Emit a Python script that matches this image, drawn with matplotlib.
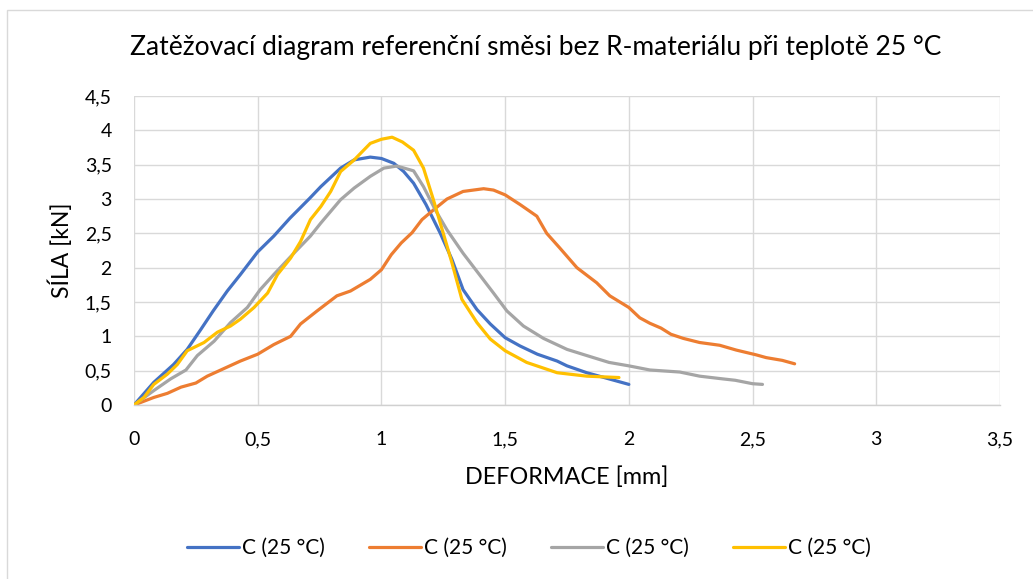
import matplotlib
matplotlib.use("Agg")
import matplotlib.pyplot as plt
from matplotlib.ticker import FuncFormatter, MultipleLocator
from matplotlib.patches import Rectangle

plt.rcParams['font.family'] = ['Lato', 'DejaVu Sans']

# Load-deformation curves (deformation in mm, force in kN)
def_blue = [0.0, 0.08, 0.16, 0.215, 0.27, 0.32, 0.377, 0.43, 0.50, 0.565, 0.63, 0.71, 0.755,
            0.835, 0.89, 0.955, 1.0, 1.05, 1.09, 1.13, 1.18, 1.238, 1.285, 1.33, 1.386, 1.44,
            1.50, 1.56, 1.63, 1.71, 1.75, 1.83, 1.91, 2.0]
force_blue = [0.0, 0.33, 0.59, 0.81, 1.10, 1.37, 1.66, 1.90, 2.23, 2.46, 2.72, 3.01, 3.18,
              3.45, 3.57, 3.61, 3.59, 3.52, 3.40, 3.23, 2.92, 2.50, 2.12, 1.68, 1.39, 1.18,
              0.98, 0.86, 0.74, 0.64, 0.57, 0.47, 0.39, 0.30]

def_orange = [0.0, 0.08, 0.135, 0.19, 0.25, 0.296, 0.363, 0.43, 0.50, 0.565, 0.633, 0.673,
              0.74, 0.82, 0.875, 0.955, 1.0, 1.04, 1.08, 1.124, 1.164, 1.21, 1.265, 1.33,
              1.413, 1.453, 1.50, 1.56, 1.628, 1.668, 1.72, 1.79, 1.87, 1.923, 2.0, 2.044,
              2.085, 2.13, 2.17, 2.22, 2.286, 2.367, 2.434, 2.515, 2.555, 2.62, 2.67]
force_orange = [0.0, 0.11, 0.17, 0.26, 0.32, 0.42, 0.53, 0.64, 0.74, 0.88, 1.00, 1.18,
                1.37, 1.59, 1.66, 1.83, 1.97, 2.19, 2.36, 2.51, 2.70, 2.84, 3.00, 3.11,
                3.15, 3.13, 3.06, 2.92, 2.75, 2.50, 2.29, 2.00, 1.78, 1.59, 1.42, 1.27,
                1.19, 1.12, 1.03, 0.97, 0.91, 0.87, 0.80, 0.73, 0.69, 0.65, 0.60]

def_gray = [0.0, 0.08, 0.148, 0.21, 0.256, 0.324, 0.39, 0.458, 0.51, 0.565, 0.646, 0.713,
            0.755, 0.835, 0.89, 0.955, 1.01, 1.063, 1.13, 1.17, 1.218, 1.265, 1.33, 1.40,
            1.453, 1.507, 1.574, 1.655, 1.75, 1.83, 1.92, 2.0, 2.085, 2.206, 2.286, 2.38,
            2.43, 2.50, 2.54]
force_gray = [0.0, 0.21, 0.38, 0.51, 0.72, 0.93, 1.20, 1.42, 1.68, 1.90, 2.21, 2.46,
              2.65, 2.99, 3.16, 3.33, 3.45, 3.48, 3.41, 3.18, 2.84, 2.55, 2.21, 1.88,
              1.63, 1.37, 1.15, 0.97, 0.81, 0.72, 0.62, 0.57, 0.51, 0.48, 0.42, 0.38,
              0.36, 0.31, 0.30]

def_yellow = [0.0, 0.04, 0.08, 0.135, 0.175, 0.215, 0.283, 0.337, 0.39, 0.43, 0.485, 0.54,
              0.58, 0.633, 0.673, 0.713, 0.755, 0.795, 0.835, 0.89, 0.955, 1.0, 1.043,
              1.085, 1.13, 1.17, 1.21, 1.25, 1.285, 1.325, 1.386, 1.44, 1.50, 1.587, 1.71,
              1.83, 1.96]
force_yellow = [0.0, 0.11, 0.30, 0.45, 0.59, 0.79, 0.91, 1.06, 1.15, 1.25, 1.42, 1.63,
                1.90, 2.14, 2.38, 2.70, 2.89, 3.11, 3.40, 3.57, 3.81, 3.87, 3.90, 3.83,
                3.71, 3.45, 2.99, 2.50, 2.07, 1.54, 1.20, 0.96, 0.79, 0.62, 0.47, 0.42, 0.40]

series_labels = ["C (25 °C)", "C (25 °C)", "C (25 °C)", "C (25 °C)"]
colors = ["#4472C4", "#ED7D31", "#A5A5A5", "#FFC000"]

title = "Zatěžovací diagram referenční směsi bez R-materiálu při teplotě 25 °C"
x_title = "DEFORMACE [mm]"
y_title = "SÍLA [kN]"

fig = plt.figure(figsize=(10.33, 5.79), dpi=100)
fig.patch.set_facecolor("white")

# chart area outline
fig.patches.append(Rectangle((7 / 1033, -0.05), 1.2, 1 - 10 / 579 + 0.05,
                             transform=fig.transFigure, fill=False,
                             edgecolor="#D9D9D9", linewidth=1.0))

ax = fig.add_axes([134 / 1033, 1 - 405 / 579, 866 / 1033, 309 / 579])

curves = [(def_blue, force_blue), (def_orange, force_orange),
          (def_gray, force_gray), (def_yellow, force_yellow)]
for (xs, ys), c, lab in zip(curves, colors, series_labels):
    ax.plot(xs, ys, color=c, linewidth=2.3, label=lab, solid_joinstyle="round",
            solid_capstyle="round")

ax.set_xlim(0, 3.5)
ax.set_ylim(0, 4.5)
ax.xaxis.set_major_locator(MultipleLocator(0.5))
ax.yaxis.set_major_locator(MultipleLocator(0.5))
comma = FuncFormatter(lambda v, p: f"{v:g}".replace(".", ","))
ax.xaxis.set_major_formatter(comma)
ax.yaxis.set_major_formatter(comma)

ax.grid(True, color="#D9D9D9", linewidth=1.0)
ax.set_axisbelow(True)
for s in ax.spines.values():
    s.set_visible(False)
ax.spines["bottom"].set_visible(True)
ax.spines["bottom"].set_color("#D0D0D0")
ax.spines["bottom"].set_linewidth(1.0)

ax.tick_params(axis="both", length=0, labelsize=14, colors="#000000")
ax.tick_params(axis="x", pad=19)
ax.tick_params(axis="y", pad=16)

ax.set_xlabel(x_title, fontsize=16.8, va="center")
ax.xaxis.set_label_coords(0.5, (405 - 477) / 309)
ax.set_ylabel(y_title, fontsize=16.5, va="center")
ax.yaxis.set_label_coords((61 - 134) / 866, 0.5)

fig.text(536 / 1033, 1 - 47.5 / 579, title, ha="center", va="center", fontsize=19)

fig.legend(loc="center", bbox_to_anchor=(529 / 1033, 1 - 548 / 579), ncol=4,
           frameon=False, fontsize=15, handlelength=2.5, handletextpad=0.15,
           columnspacing=2.1)

fig.savefig("out.png", dpi=100)
